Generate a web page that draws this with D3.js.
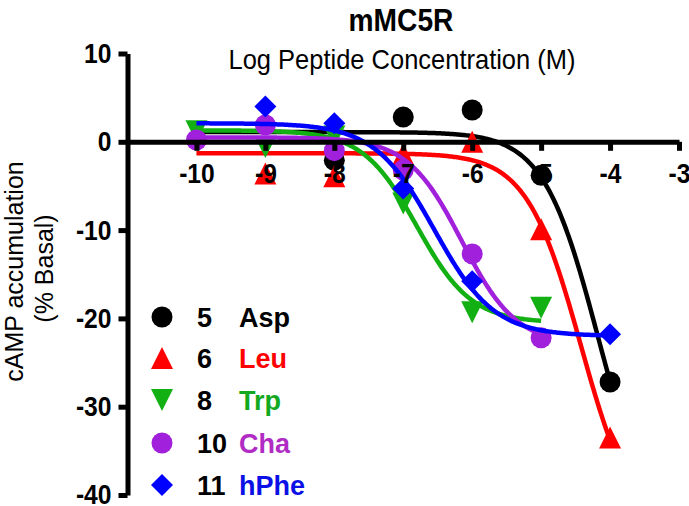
<!DOCTYPE html>
<html>
<head>
<meta charset="utf-8">
<script src="https://cdn.jsdelivr.net/npm/d3@7/dist/d3.min.js"></script>
<style>
  html, body { margin: 0; padding: 0; background: #fff; }
  svg { display: block; }
  text { font-family: "Liberation Sans", Arial, Helvetica, sans-serif; }
</style>
</head>
<body>
<svg id="chart" width="689" height="506"></svg>
<script>
// ---------- data ----------
const logConc = [-10, -9, -8, -7, -6, -5, -4];
const asp  = [null, null, -2.1, 2.8, 3.6, -3.8, -27.2];
const leu  = [null, -3.6, -3.9, -1.4, 0.0, -9.9, -33.5];
const trp  = [1.2, -0.6, 0.6, -7.0, -19.3, -18.8, null];
const cha  = [0.2, 1.9, -1.0, -3.2, -12.7, -22.2, null];
const hphe = [null, 4.0, 2.1, -5.3, -15.8, null, -21.8];

const seriesIds   = ["5", "6", "8", "10", "11"];
const seriesNames = ["Asp", "Leu", "Trp", "Cha", "hPhe"];

// fitted sigmoid (four-parameter logistic) parameters per series
const fitTop     = [1.1, -1.3, 1.3, 0.5, 2.1];
const fitBottom  = [-45, -45, -20.5, -23, -22];
const fitLogEC50 = [-4.18, -4.42, -6.8, -6.15, -6.55];
const fitHill    = [1.1, 1.1, 1.1, 1.1, 1.0];
const fitStart   = [-10, -10, -10, -10, -10];
const fitEnd     = [-4, -4, -5, -5, -4];

const xTicks = [-10, -9, -8, -7, -6, -5, -4, -3];
const yTicks = [10, 0, -10, -20, -30, -40];

const titleText = "mMC5R";
const xTitle = "Log Peptide Concentration (M)";
const yTitle1 = "cAMP accumulation";
const yTitle2 = "(% Basal)";

// ---------- styles ----------
const markerColors = ["#000000", "#ff0000", "#12b012", "#a020dc", "#0000ff"];
const nameColors   = ["#000000", "#ff0000", "#12a820", "#b02cc4", "#0a10e6"];
const shapes = ["circle", "triUp", "triDown", "circle", "diamond"];
const allValues = [asp, leu, trp, cha, hphe];

const svg = d3.select("#chart");
const x = d3.scaleLinear().domain([-11, -3]).range([127.5, 679]);
const y = d3.scaleLinear().domain([10, -40]).range([53.5, 495]);

function shapePath(kind) {
  const s = 11;
  if (kind === "triUp")   return `M0,${-s}L${s},${s}L${-s},${s}Z`;
  if (kind === "triDown") return `M0,${s}L${s},${-s}L${-s},${-s}Z`;
  if (kind === "diamond") return `M0,${-s}L${s},0L0,${s}L${-s},0Z`;
  return null;
}
function drawMarker(g, kind, cx, cy, color) {
  if (kind === "circle") {
    g.append("circle").attr("cx", cx).attr("cy", cy).attr("r", 10.5).attr("fill", color);
  } else {
    g.append("path").attr("d", shapePath(kind))
      .attr("transform", `translate(${cx},${cy})`).attr("fill", color);
  }
}
// condense glyphs horizontally (the reference uses a narrow face)
function condense(sel, factor) {
  sel.each(function () {
    const w = this.getComputedTextLength();
    d3.select(this).attr("textLength", w * factor).attr("lengthAdjust", "spacingAndGlyphs");
  });
}

// ---------- series ----------
const dataG = svg.append("g");
allValues.forEach((vals, i) => {
  const g = dataG.append("g");
  // fitted curve: y = bottom + (top-bottom)/(1+10^((x-logEC50)*hill))
  const curveFn = v => fitBottom[i] + (fitTop[i] - fitBottom[i]) /
      (1 + Math.pow(10, (v - fitLogEC50[i]) * fitHill[i]));
  const xs = d3.range(fitStart[i], fitEnd[i] + 0.0001, 0.02);
  g.append("path")
    .attr("d", d3.line().x(v => x(v)).y(v => y(curveFn(v)))(xs))
    .attr("fill", "none").attr("stroke", markerColors[i]).attr("stroke-width", 4.5);
  vals.forEach((v, j) => {
    if (v === null) return;
    drawMarker(g, shapes[i], x(logConc[j]), y(v), markerColors[i]);
  });
});

// ---------- axes ----------
const xAxis = d3.axisBottom(x).tickValues(xTicks).tickSize(9).tickSizeOuter(0).tickPadding(12)
  .tickFormat(d3.format("d"));
const xg = svg.append("g").attr("transform", `translate(0,${y(0)})`).call(xAxis);
const yAxis = d3.axisLeft(y).tickValues(yTicks).tickSize(9).tickSizeOuter(0).tickPadding(7)
  .tickFormat(d3.format("d"));
const yg = svg.append("g").attr("transform", `translate(${x(-11)},0)`).call(yAxis);

[xg, yg].forEach(g => {
  g.select(".domain").attr("stroke", "#000").attr("stroke-width", 5);
  g.selectAll(".tick line").attr("stroke", "#000").attr("stroke-width", 5);
  g.selectAll(".tick text")
    .attr("fill", "#000")
    .style("font-family", '"Liberation Sans", Arial, sans-serif')
    .style("font-size", "28px").style("font-weight", "bold")
    .text(d => d3.format("d")(d).replace("−", "-"));
  condense(g.selectAll(".tick text"), 0.88);
});

// ---------- titles ----------
const t1 = svg.append("text").attr("x", 401).attr("y", 31).attr("text-anchor", "middle")
  .style("font-size", "32px").style("font-weight", "bold").text(titleText);
condense(t1, 0.88);
const t2 = svg.append("text").attr("x", 402).attr("y", 69).attr("text-anchor", "middle")
  .style("font-size", "28px").text(xTitle);
condense(t2, 0.91);
svg.append("text").attr("transform", "translate(23,271.5) rotate(-90)")
  .attr("text-anchor", "middle").style("font-size", "25px").text(yTitle1);
svg.append("text").attr("transform", "translate(53,268.5) rotate(-90)")
  .attr("text-anchor", "middle").style("font-size", "25px").text(yTitle2);

// ---------- legend ----------
const legendRowsY = [317, 358, 400, 443, 485];
const lg = svg.append("g");
seriesIds.forEach((id, i) => {
  drawMarker(lg, shapes[i], 162, legendRowsY[i], markerColors[i]);
  lg.append("text").attr("x", 197).attr("y", legendRowsY[i] + 10)
    .style("font-size", "27px").style("font-weight", "bold").attr("fill", "#000").text(id);
  lg.append("text").attr("x", 239).attr("y", legendRowsY[i] + 10)
    .style("font-size", "27px").style("font-weight", "bold").attr("fill", nameColors[i])
    .text(seriesNames[i]);
});
</script>
</body>
</html>
